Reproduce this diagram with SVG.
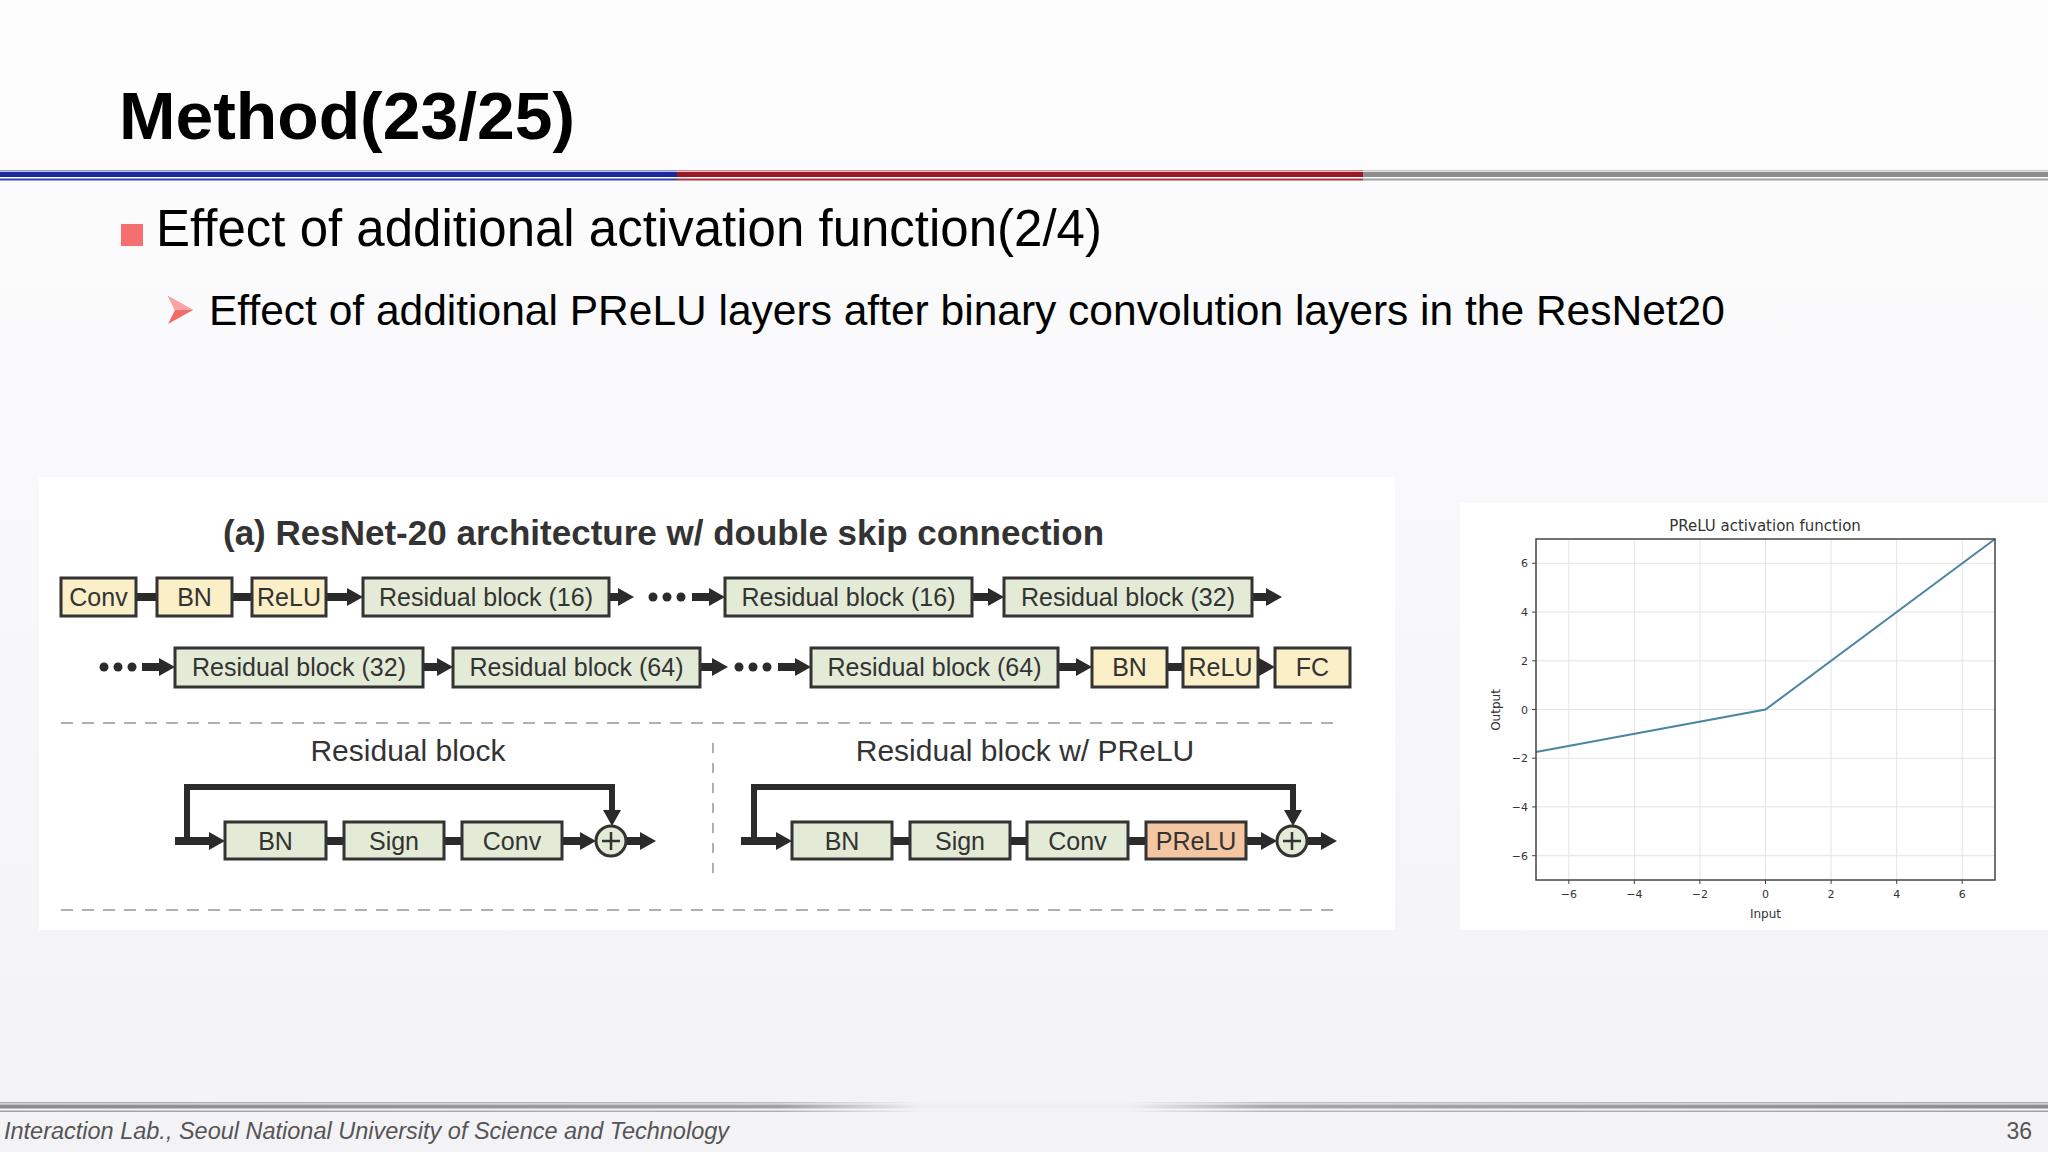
<svg xmlns="http://www.w3.org/2000/svg" width="2048" height="1152" viewBox="0 0 2048 1152">
<defs>
<linearGradient id="bg" x1="0" y1="0" x2="0" y2="1">
<stop offset="0" stop-color="#fdfdfe"/><stop offset="1" stop-color="#f3f2f5"/>
</linearGradient>
<linearGradient id="foot" x1="0" y1="0" x2="1" y2="0">
<stop offset="0" stop-color="#8c8c8c"/><stop offset="0.38" stop-color="#a0a0a0"/><stop offset="0.45" stop-color="#f0eff2"/><stop offset="0.55" stop-color="#f0eff2"/><stop offset="0.62" stop-color="#a8a8a8"/><stop offset="1" stop-color="#8c8c8c"/>
</linearGradient>
<marker id="ah" markerUnits="userSpaceOnUse" markerWidth="16" markerHeight="18" refX="6" refY="9" orient="auto">
<path d="M0,0 L16,9 L0,18 z" fill="#2b2b2b"/>
</marker>
<style>
.g{fill:#e3ebd7;stroke:#333;stroke-width:3}
.y{fill:#fbefc8;stroke:#333;stroke-width:3}
.o{fill:#f4c6a2;stroke:#333;stroke-width:3}
.t{font-family:"Liberation Sans",Arial,sans-serif;font-size:25px;fill:#333;text-anchor:middle}
.bar{stroke:#2b2b2b;stroke-width:8;fill:none}
.arr{stroke:#2b2b2b;stroke-width:8;fill:none;marker-end:url(#ah)}
.dot{fill:#2b2b2b}
.dash{stroke:#b0b0b0;stroke-width:2;stroke-dasharray:12 9;fill:none}
.grid{stroke:#e4e4e4;stroke-width:1}
.tk{font-family:"DejaVu Sans",sans-serif;font-size:11px;fill:#333}
</style>
</defs>
<rect width="2048" height="1152" fill="url(#bg)"/>

<!-- header -->
<text x="119" y="139" font-family="Liberation Sans,Arial,sans-serif" font-weight="bold" font-size="67" fill="#000" textLength="456" lengthAdjust="spacingAndGlyphs">Method(23/25)</text>
<g id="header-lines">
<rect x="0" y="170" width="677" height="1.5" fill="#8a96d8"/>
<rect x="0" y="172" width="677" height="5" fill="#1c2a98"/>
<rect x="0" y="178.5" width="677" height="2" fill="#3343b0"/>
<rect x="677" y="170" width="686" height="1.5" fill="#d88a94"/>
<rect x="677" y="172" width="686" height="5" fill="#961b26"/>
<rect x="677" y="178.5" width="686" height="2" fill="#b0323e"/>
<rect x="1363" y="170" width="685" height="1.5" fill="#c8c8c8"/>
<rect x="1363" y="172" width="685" height="5" fill="#8e8e8e"/>
<rect x="1363" y="178.5" width="685" height="2" fill="#a0a0a0"/>
</g>
<rect x="121" y="224" width="22" height="22" fill="#f47070"/>
<text x="156" y="246" font-family="Liberation Sans,Arial,sans-serif" font-size="51" fill="#000">Effect of additional activation function(2/4)</text>
<polygon points="168,296 193,310 168,324 175,310" fill="#f26a6a"/>
<polygon points="168,296 193,310 175,310" fill="#f9a3a3"/>
<text x="209" y="325" font-family="Liberation Sans,Arial,sans-serif" font-size="42.5" fill="#000">Effect of additional PReLU layers after binary convolution layers in the ResNet20</text>

<!-- panels -->
<rect x="39" y="477" width="1356" height="453" fill="#ffffff"/>
<rect x="1460" y="503" width="588" height="427" fill="#ffffff"/>

<text x="223" y="545" font-family="Liberation Sans,Arial,sans-serif" font-weight="bold" font-size="35" fill="#333">(a) ResNet-20 architecture w/ double skip connection</text>

<!-- connectors -->
<g id="connectors">
<line class="bar" x1="136" y1="597" x2="157" y2="597"/>
<line class="bar" x1="232" y1="597" x2="252" y2="597"/>
<line class="arr" x1="326" y1="597" x2="353" y2="597"/>
<line class="arr" x1="609" y1="597" x2="624" y2="597"/>
<circle class="dot" cx="653" cy="597" r="4.5"/><circle class="dot" cx="667" cy="597" r="4.5"/><circle class="dot" cx="681" cy="597" r="4.5"/>
<line class="arr" x1="692" y1="597" x2="715" y2="597"/>
<line class="arr" x1="972" y1="597" x2="994" y2="597"/>
<line class="arr" x1="1252" y1="597" x2="1272" y2="597"/>

<circle class="dot" cx="104" cy="667" r="4.5"/><circle class="dot" cx="118" cy="667" r="4.5"/><circle class="dot" cx="132" cy="667" r="4.5"/>
<line class="arr" x1="142" y1="667" x2="165" y2="667"/>
<line class="arr" x1="423" y1="667" x2="443" y2="667"/>
<line class="arr" x1="700" y1="667" x2="718" y2="667"/>
<circle class="dot" cx="739" cy="667" r="4.5"/><circle class="dot" cx="753" cy="667" r="4.5"/><circle class="dot" cx="767" cy="667" r="4.5"/>
<line class="arr" x1="778" y1="667" x2="801" y2="667"/>
<line class="arr" x1="1058" y1="667" x2="1082" y2="667"/>
<line class="bar" x1="1167" y1="667" x2="1183" y2="667"/>
<line class="arr" x1="1258" y1="667" x2="1265" y2="667" style="stroke-width:6"/>

<!-- residual block -->
<path class="bar" d="M187,841 V787 H612 V812" style="stroke-width:6"/>
<path d="M603,810 L612,826 L621,810 z" fill="#2b2b2b"/>
<line class="arr" x1="175" y1="841" x2="215" y2="841"/>
<line class="bar" x1="326" y1="841" x2="344" y2="841"/>
<line class="bar" x1="444" y1="841" x2="462" y2="841"/>
<line class="arr" x1="562" y1="841" x2="586" y2="841"/>
<line class="arr" x1="626" y1="841" x2="646" y2="841"/>

<!-- residual block w/ PReLU -->
<path class="bar" d="M754,841 V787 H1293 V812" style="stroke-width:6"/>
<path d="M1284,810 L1293,826 L1302,810 z" fill="#2b2b2b"/>
<line class="arr" x1="741" y1="841" x2="782" y2="841"/>
<line class="bar" x1="892" y1="841" x2="910" y2="841"/>
<line class="bar" x1="1010" y1="841" x2="1027" y2="841"/>
<line class="bar" x1="1128" y1="841" x2="1146" y2="841"/>
<line class="arr" x1="1246" y1="841" x2="1267" y2="841"/>
<line class="arr" x1="1307" y1="841" x2="1327" y2="841"/>
</g>

<!-- row 1 nodes -->
<g id="conv1"><rect class="y" x="61" y="578" width="75" height="38"/><text class="t" x="98.5" y="606">Conv</text></g>
<g id="bn1"><rect class="y" x="157" y="578" width="75" height="38"/><text class="t" x="194.5" y="606">BN</text></g>
<g id="relu1"><rect class="y" x="252" y="578" width="74" height="38"/><text class="t" x="289" y="606">ReLU</text></g>
<g id="rb16a"><rect class="g" x="363" y="578" width="246" height="38"/><text class="t" x="486" y="606">Residual block (16)</text></g>
<g id="rb16b"><rect class="g" x="725" y="578" width="247" height="38"/><text class="t" x="848.5" y="606">Residual block (16)</text></g>
<g id="rb32a"><rect class="g" x="1004" y="578" width="248" height="38"/><text class="t" x="1128" y="606">Residual block (32)</text></g>

<!-- row 2 nodes -->
<g id="rb32b"><rect class="g" x="175" y="648" width="248" height="39"/><text class="t" x="299" y="676">Residual block (32)</text></g>
<g id="rb64a"><rect class="g" x="453" y="648" width="247" height="39"/><text class="t" x="576.5" y="676">Residual block (64)</text></g>
<g id="rb64b"><rect class="g" x="811" y="648" width="247" height="39"/><text class="t" x="934.5" y="676">Residual block (64)</text></g>
<g id="bn2"><rect class="y" x="1092" y="648" width="75" height="39"/><text class="t" x="1129.5" y="676">BN</text></g>
<g id="relu2"><rect class="y" x="1183" y="648" width="75" height="39"/><text class="t" x="1220.5" y="676">ReLU</text></g>
<g id="fc"><rect class="y" x="1275" y="648" width="75" height="39"/><text class="t" x="1312.5" y="676">FC</text></g>

<!-- separators -->
<line class="dash" x1="61" y1="723" x2="1338" y2="723"/>
<line class="dash" x1="61" y1="910" x2="1338" y2="910"/>
<line class="dash" x1="713" y1="743" x2="713" y2="873" style="stroke-dasharray:10 10"/>

<text x="408" y="761" font-family="Liberation Sans,Arial,sans-serif" font-size="30" fill="#333" text-anchor="middle">Residual block</text>
<text x="1025" y="761" font-family="Liberation Sans,Arial,sans-serif" font-size="30" fill="#333" text-anchor="middle">Residual block w/ PReLU</text>

<g id="rb-bn"><rect class="g" x="225" y="822" width="101" height="37"/><text class="t" x="275.5" y="850">BN</text></g>
<g id="rb-sign"><rect class="g" x="344" y="822" width="100" height="37"/><text class="t" x="394" y="850">Sign</text></g>
<g id="rb-conv"><rect class="g" x="462" y="822" width="100" height="37"/><text class="t" x="512" y="850">Conv</text></g>
<g id="rb-add"><circle cx="611" cy="841" r="15" fill="#e3ebd7" stroke="#333" stroke-width="3"/><path d="M611,832 V850 M602,841 H620" stroke="#333" stroke-width="2.5"/></g>

<g id="rbp-bn"><rect class="g" x="792" y="822" width="100" height="37"/><text class="t" x="842" y="850">BN</text></g>
<g id="rbp-sign"><rect class="g" x="910" y="822" width="100" height="37"/><text class="t" x="960" y="850">Sign</text></g>
<g id="rbp-conv"><rect class="g" x="1027" y="822" width="101" height="37"/><text class="t" x="1077.5" y="850">Conv</text></g>
<g id="rbp-prelu"><rect class="o" x="1146" y="822" width="100" height="37"/><text class="t" x="1196" y="850">PReLU</text></g>
<g id="rbp-add"><circle cx="1292" cy="841" r="15" fill="#e3ebd7" stroke="#333" stroke-width="3"/><path d="M1292,832 V850 M1283,841 H1301" stroke="#333" stroke-width="2.5"/></g>

<!-- chart -->
<g id="chart">
<text x="1765" y="531" font-family="DejaVu Sans,sans-serif" font-size="15" fill="#333" text-anchor="middle">PReLU activation function</text>
<g class="grid">
<line x1="1568.8" y1="539" x2="1568.8" y2="880"/><line x1="1634.3" y1="539" x2="1634.3" y2="880"/><line x1="1699.9" y1="539" x2="1699.9" y2="880"/><line x1="1765.5" y1="539" x2="1765.5" y2="880"/><line x1="1831.1" y1="539" x2="1831.1" y2="880"/><line x1="1896.7" y1="539" x2="1896.7" y2="880"/><line x1="1962.2" y1="539" x2="1962.2" y2="880"/>
<line x1="1536" y1="563.3" x2="1995" y2="563.3"/><line x1="1536" y1="612.1" x2="1995" y2="612.1"/><line x1="1536" y1="660.8" x2="1995" y2="660.8"/><line x1="1536" y1="709.5" x2="1995" y2="709.5"/><line x1="1536" y1="758.2" x2="1995" y2="758.2"/><line x1="1536" y1="806.9" x2="1995" y2="806.9"/><line x1="1536" y1="855.7" x2="1995" y2="855.7"/>
</g>
<polyline points="1536,752.1 1765.5,709.5 1995,539" fill="none" stroke="#4a86a2" stroke-width="2"/>
<rect x="1536" y="539" width="459" height="341" fill="none" stroke="#444" stroke-width="1.5"/>
<g stroke="#444" stroke-width="1">
<line x1="1568.8" y1="880" x2="1568.8" y2="884"/><line x1="1634.3" y1="880" x2="1634.3" y2="884"/><line x1="1699.9" y1="880" x2="1699.9" y2="884"/><line x1="1765.5" y1="880" x2="1765.5" y2="884"/><line x1="1831.1" y1="880" x2="1831.1" y2="884"/><line x1="1896.7" y1="880" x2="1896.7" y2="884"/><line x1="1962.2" y1="880" x2="1962.2" y2="884"/>
<line x1="1532" y1="563.3" x2="1536" y2="563.3"/><line x1="1532" y1="612.1" x2="1536" y2="612.1"/><line x1="1532" y1="660.8" x2="1536" y2="660.8"/><line x1="1532" y1="709.5" x2="1536" y2="709.5"/><line x1="1532" y1="758.2" x2="1536" y2="758.2"/><line x1="1532" y1="806.9" x2="1536" y2="806.9"/><line x1="1532" y1="855.7" x2="1536" y2="855.7"/>
</g>
<g class="tk" text-anchor="middle">
<text x="1568.8" y="898">−6</text><text x="1634.3" y="898">−4</text><text x="1699.9" y="898">−2</text><text x="1765.5" y="898">0</text><text x="1831.1" y="898">2</text><text x="1896.7" y="898">4</text><text x="1962.2" y="898">6</text>
</g>
<g class="tk" text-anchor="end">
<text x="1528" y="567.3">6</text><text x="1528" y="616.1">4</text><text x="1528" y="664.8">2</text><text x="1528" y="713.5">0</text><text x="1528" y="762.2">−2</text><text x="1528" y="810.9">−4</text><text x="1528" y="859.7">−6</text>
</g>
<text x="1765.5" y="918" font-family="DejaVu Sans,sans-serif" font-size="12" fill="#333" text-anchor="middle">Input</text>
<text transform="translate(1500,710) rotate(-90)" font-family="DejaVu Sans,sans-serif" font-size="12" fill="#333" text-anchor="middle">Output</text>
</g>

<!-- footer -->
<g id="footer-lines">
<rect x="0" y="1102" width="2048" height="1.5" fill="url(#foot)" opacity="0.7"/>
<rect x="0" y="1104.5" width="2048" height="4" fill="url(#foot)"/>
<rect x="0" y="1110.5" width="2048" height="1.5" fill="url(#foot)" opacity="0.8"/>
</g>
<text x="4" y="1139" font-family="Liberation Sans,Arial,sans-serif" font-style="italic" font-size="23" fill="#555" textLength="725" lengthAdjust="spacingAndGlyphs">Interaction Lab., Seoul National University of Science and Technology</text>
<text x="2032" y="1139" font-family="Liberation Sans,Arial,sans-serif" font-size="23" fill="#555" text-anchor="end">36</text>
</svg>
